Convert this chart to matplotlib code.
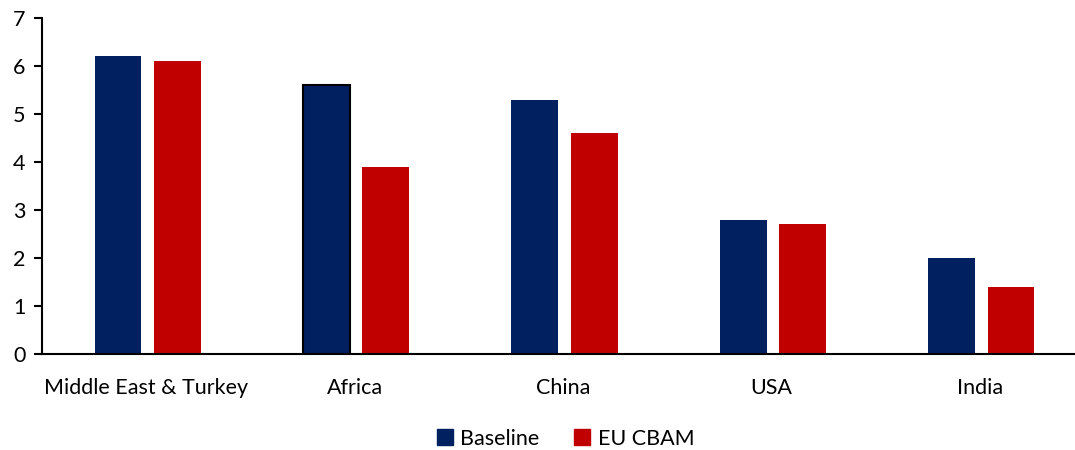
import numpy as np
import matplotlib.pyplot as plt
from matplotlib.patches import Patch

regions = ["Middle East & Turkey", "Africa", "China", "USA", "India"]
baseline = [6.2, 5.6, 5.3, 2.8, 2.0]
eu_cbam = [6.1, 3.9, 4.6, 2.7, 1.4]

navy = "#002060"
red = "#C00000"

plt.rcParams["font.family"] = ["Lato", "DejaVu Sans"]

fig = plt.figure(figsize=(10.75, 4.5), dpi=100)
ax = fig.add_axes([0.039, 0.2133, 0.9693, 0.7467])

x = np.arange(len(regions))
width = 0.225
ax.bar(x - 0.135, baseline, width, color=navy)
ax.bar(x + 0.15, eu_cbam, width, color=red)
# Africa's baseline bar carries a dark outline
ax.bar(x[1] - 0.135, baseline[1], width, color=navy, edgecolor="black", linewidth=1.5)

ax.set_xlim(-0.5, len(regions) - 0.5)
ax.set_ylim(0, 7)
ax.set_yticks(range(8))
ax.set_xticks(x)
ax.set_xticklabels(regions)

for side in ["top", "right"]:
    ax.spines[side].set_visible(False)
ax.spines["left"].set_linewidth(1.5)
ax.spines["bottom"].set_linewidth(1.5)
ax.tick_params(axis="y", length=6, width=1.5, labelsize=15.5, pad=6)
ax.tick_params(axis="x", length=0, labelsize=15.5, pad=17)

handles = [Patch(color=navy, label="Baseline"), Patch(color=red, label="EU CBAM")]
fig.legend(handles=handles, loc="lower center", ncol=2, frameon=False,
           fontsize=15.5, bbox_to_anchor=(0.526, -0.04), handlelength=0.75,
           handleheight=0.75, handletextpad=0.35, columnspacing=1.6)

fig.savefig("out.png", dpi=100)
